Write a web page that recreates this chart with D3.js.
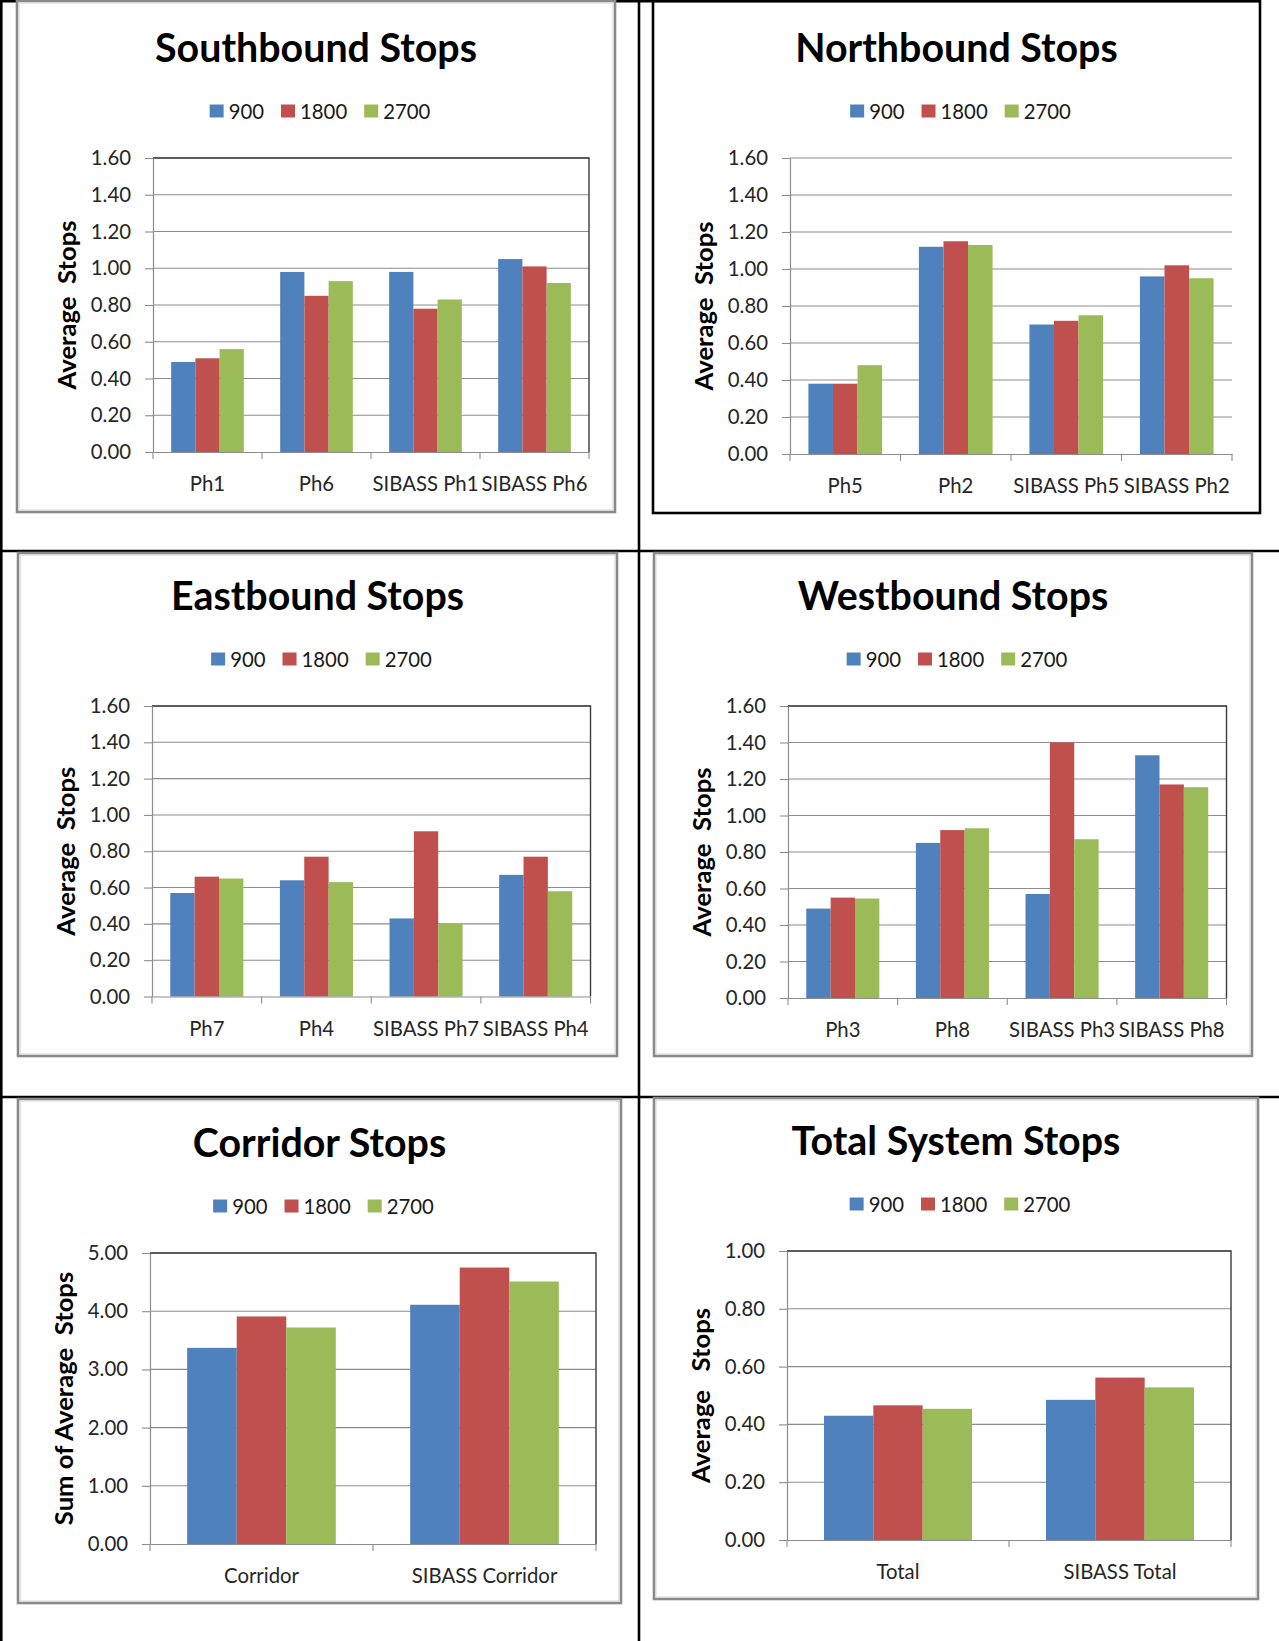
<!DOCTYPE html>
<html>
<head>
<meta charset="utf-8">
<script src="https://cdn.jsdelivr.net/npm/d3@7"></script>
<style>
  html, body { margin: 0; padding: 0; background: #fff; }
  svg { display: block; }
  text { white-space: pre; }
</style>
</head>
<body>
<svg id="page" width="1279" height="1641"></svg>
<script>
// ---------------- DATA ----------------
const seriesNames = ["900", "1800", "2700"];

const sbCategories = ["Ph1", "Ph6", "SIBASS Ph1", "SIBASS Ph6"];
const sb900  = [0.49, 0.98, 0.98, 1.05];
const sb1800 = [0.51, 0.85, 0.78, 1.01];
const sb2700 = [0.56, 0.93, 0.83, 0.92];

const nbCategories = ["Ph5", "Ph2", "SIBASS Ph5", "SIBASS Ph2"];
const nb900  = [0.38, 1.12, 0.70, 0.96];
const nb1800 = [0.38, 1.15, 0.72, 1.02];
const nb2700 = [0.48, 1.13, 0.75, 0.95];

const ebCategories = ["Ph7", "Ph4", "SIBASS Ph7", "SIBASS Ph4"];
const eb900  = [0.57, 0.64, 0.43, 0.67];
const eb1800 = [0.66, 0.77, 0.91, 0.77];
const eb2700 = [0.65, 0.63, 0.40, 0.58];

const wbCategories = ["Ph3", "Ph8", "SIBASS Ph3", "SIBASS Ph8"];
const wb900  = [0.49, 0.85, 0.57, 1.33];
const wb1800 = [0.55, 0.92, 1.40, 1.17];
const wb2700 = [0.545, 0.93, 0.87, 1.155];

const corCategories = ["Corridor", "SIBASS Corridor"];
const cor900  = [3.37, 4.11];
const cor1800 = [3.91, 4.75];
const cor2700 = [3.72, 4.51];

const totCategories = ["Total", "SIBASS Total"];
const tot900  = [0.43, 0.485];
const tot1800 = [0.466, 0.562];
const tot2700 = [0.454, 0.528];

const ticksDir = [0, 0.2, 0.4, 0.6, 0.8, 1.0, 1.2, 1.4, 1.6];
const ticksCor = [0, 1, 2, 3, 4, 5];
const ticksTot = [0, 0.2, 0.4, 0.6, 0.8, 1.0];

const titles = ["Southbound Stops", "Northbound Stops", "Eastbound Stops",
                "Westbound Stops", "Corridor Stops", "Total System Stops"];
const yLabels = ["Average  Stops", "Average  Stops", "Average  Stops",
                 "Average  Stops", "Sum of Average  Stops", "Average   Stops"];

// ---------------- STYLE / LAYOUT ----------------
const colors = ["#4F81BD", "#C0504D", "#9BBB59"];
const FONT = "Lato, 'Open Sans', sans-serif";

const svg = d3.select("#page");

function fitSize(str, weight, target) {
  const t = svg.append("text").attr("font-family", FONT).attr("font-weight", weight)
    .attr("font-size", 100).text(str);
  const w = t.node().getComputedTextLength();
  t.remove();
  return 100 * target / w;
}
const titleSize = fitSize("Southbound Stops", "bold", 322);
const textSize = fitSize("SIBASS Ph1", "normal", 106);
const yLabSize = fitSize("Average  Stops", "bold", 169);

// table grid lines
const grid = svg.append("g").attr("stroke", "#000").attr("stroke-width", 2.6);
grid.append("line").attr("x1", 1.3).attr("x2", 1.3).attr("y1", 0).attr("y2", 1641);
grid.append("line").attr("x1", 639).attr("x2", 639).attr("y1", 0).attr("y2", 1641);
grid.append("line").attr("x1", 0).attr("x2", 1260).attr("y1", 1.3).attr("y2", 1.3);
grid.append("line").attr("x1", 0).attr("x2", 1279).attr("y1", 551).attr("y2", 551);
grid.append("line").attr("x1", 0).attr("x2", 1279).attr("y1", 1097).attr("y2", 1097);

const panels = [
  { box: [17, 1, 615, 512],    plot: [153, 158, 589, 452],   black: false, border: true },
  { box: [653, 1.3, 1260, 513], plot: [790, 158, 1232, 454], black: true,  border: false },
  { box: [18, 553, 617, 1056], plot: [152, 706, 590.5, 996.5], black: false, border: true },
  { box: [654, 553, 1252, 1056], plot: [788, 706, 1226.5, 998], black: false, border: true },
  { box: [18, 1099, 621, 1603], plot: [150, 1253, 596, 1544], black: false, border: true },
  { box: [654, 1098, 1258, 1599], plot: [787, 1251, 1231, 1540], black: false, border: true }
];

const chartDefs = [
  { cats: sbCategories, vals: [sb900, sb1800, sb2700], ticks: ticksDir },
  { cats: nbCategories, vals: [nb900, nb1800, nb2700], ticks: ticksDir },
  { cats: ebCategories, vals: [eb900, eb1800, eb2700], ticks: ticksDir },
  { cats: wbCategories, vals: [wb900, wb1800, wb2700], ticks: ticksDir },
  { cats: corCategories, vals: [cor900, cor1800, cor2700], ticks: ticksCor },
  { cats: totCategories, vals: [tot900, tot1800, tot2700], ticks: ticksTot }
];

chartDefs.forEach((def, i) => drawChart(def, panels[i], titles[i], yLabels[i]));

function drawChart(def, p, title, yLabel) {
  const g = svg.append("g");
  const [bx0, by0, bx1, by1] = p.box;
  const [px0, py0, px1, py1] = p.plot;

  // chart box
  g.append("rect").attr("x", bx0).attr("y", by0).attr("width", bx1 - bx0).attr("height", by1 - by0)
    .attr("fill", "#fff")
    .attr("stroke", p.black ? "#000" : "#8a8a8a").attr("stroke-width", 2.6);
  if (!p.black) {
    g.append("rect").attr("x", bx0 + 2).attr("y", by0 + 2).attr("width", bx1 - bx0 - 4).attr("height", by1 - by0 - 4)
      .attr("fill", "none").attr("stroke", "#d4d4d4").attr("stroke-width", 1);
  }

  const cx = (bx0 + bx1) / 2;

  // title
  g.append("text").attr("x", cx).attr("y", py0 - 112).attr("text-anchor", "middle")
    .attr("dominant-baseline", "central").attr("font-family", FONT).attr("font-weight", "bold")
    .attr("font-size", titleSize).attr("fill", "#000").text(title);

  // legend
  const leg = g.append("g").attr("font-family", FONT).attr("font-size", textSize).attr("fill", "#1a1a1a");
  let lx = 0;
  seriesNames.forEach((s, k) => {
    const it = leg.append("g");
    it.append("rect").attr("x", 0).attr("y", -6.5).attr("width", 14).attr("height", 13).attr("fill", colors[k]);
    const t = it.append("text").attr("x", 19).attr("y", 0).attr("dominant-baseline", "central").text(s);
    const w = 19 + t.node().getComputedTextLength();
    it.attr("transform", `translate(${lx},0)`);
    lx += w + 17;
  });
  const legW = lx - 17;
  leg.attr("transform", `translate(${cx + 4 - legW / 2},${py0 - 47})`);

  // scales
  const yMax = def.ticks[def.ticks.length - 1];
  const y = d3.scaleLinear().domain([0, yMax]).range([py1, py0]);
  const x = d3.scaleBand().domain(def.cats).range([px0, px1]).paddingInner(0).paddingOuter(0);
  const bw = x.bandwidth();
  const x1 = d3.scaleBand().domain(seriesNames).range([bw / 6, bw * 5 / 6]).padding(0);

  // gridlines
  g.append("g").selectAll("line").data(def.ticks.slice(1)).join("line")
    .attr("x1", px0).attr("x2", px1).attr("y1", d => y(d)).attr("y2", d => y(d))
    .attr("stroke", "#8c8c8c").attr("stroke-width", 1.1);

  // bars
  const rows = [];
  def.cats.forEach((c, ci) => seriesNames.forEach((s, si) => rows.push({ c, s, si, v: def.vals[si][ci] })));
  g.append("g").selectAll("rect").data(rows).join("rect")
    .attr("x", d => x(d.c) + x1(d.s)).attr("width", x1.bandwidth())
    .attr("y", d => y(d.v)).attr("height", d => y(0) - y(d.v))
    .attr("fill", d => colors[d.si]);

  // plot border (top & right)
  if (p.border) {
    g.append("path").attr("d", `M${px0},${py0}H${px1}V${py1}`)
      .attr("fill", "none").attr("stroke", "#3a3a3a").attr("stroke-width", 1.4);
  }

  // y axis
  const yAxis = d3.axisLeft(y).tickValues(def.ticks).tickFormat(d3.format(".2f"))
    .tickSize(8).tickPadding(14).tickSizeOuter(0);
  const ya = g.append("g").attr("transform", `translate(${px0},0)`).call(yAxis);
  ya.select(".domain").attr("stroke", "#8c8c8c").attr("stroke-width", 1.2);
  ya.selectAll(".tick line").attr("stroke", "#8c8c8c").attr("stroke-width", 1.1);
  ya.selectAll(".tick text").attr("font-family", FONT).attr("font-size", textSize).attr("fill", "#262626");

  // x axis
  const xAxis = d3.axisBottom(x).tickSize(0).tickPadding(0).tickSizeOuter(0);
  const xa = g.append("g").attr("transform", `translate(0,${py1})`).call(xAxis);
  xa.select(".domain").attr("stroke", "#8c8c8c").attr("stroke-width", 1.2);
  xa.selectAll(".tick text").attr("font-family", FONT).attr("font-size", textSize).attr("fill", "#262626")
    .attr("dy", null).attr("y", 31).attr("dominant-baseline", "central");
  const bounds = def.cats.map(c => x(c)).concat([px1]);
  g.append("g").selectAll("line").data(bounds).join("line")
    .attr("x1", d => d).attr("x2", d => d).attr("y1", py1).attr("y2", py1 + 7)
    .attr("stroke", "#8c8c8c").attr("stroke-width", 1.1);

  // y label
  g.append("text").attr("transform", `translate(${px0 - 87},${(py0 + py1) / 2}) rotate(-90)`)
    .attr("text-anchor", "middle").attr("dominant-baseline", "central")
    .attr("font-family", FONT).attr("font-weight", "bold").attr("font-size", yLabSize)
    .attr("fill", "#000").text(yLabel);
}
</script>
</body>
</html>
